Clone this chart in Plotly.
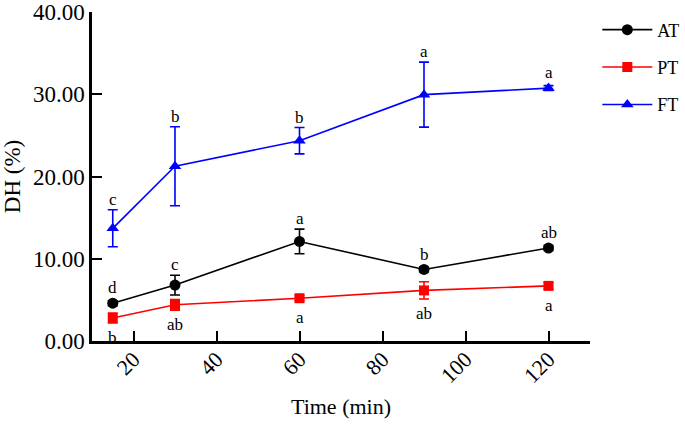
import plotly.graph_objects as go

time = [15, 30, 60, 90, 120]

at_mean = [4.6, 6.8, 12.1, 8.7, 11.3]
at_err = [0.3, 1.2, 1.5, 0.3, 0.3]
at_sig = ["d", "c", "a", "b", "ab"]

pt_mean = [2.8, 4.4, 5.2, 6.15, 6.7]
pt_err = [0.6, 0.65, 0.3, 1.05, 0.4]
pt_sig = ["b", "ab", "a", "ab", "a"]

ft_mean = [13.7, 21.25, 24.35, 29.95, 30.75]
ft_err = [2.25, 4.8, 1.6, 3.95, 0.3]
ft_sig = ["c", "b", "b", "a", "a"]

FONT = "Liberation Serif, Times New Roman, serif"

series = [
    ("AT", at_mean, at_err, at_sig, "black", "circle", "above"),
    ("PT", pt_mean, pt_err, pt_sig, "red", "square", "below"),
    ("FT", ft_mean, ft_err, ft_sig, "blue", "triangle-up", "above"),
]

fig = go.Figure()
annotations = []
for name, mean, err, sig, col, sym, where in series:
    fig.add_trace(go.Scatter(
        x=time, y=mean, name=name, mode="lines+markers",
        line=dict(color=col, width=1.6),
        marker=dict(symbol=sym, size=11 if sym != "square" else 10, color=col),
        error_y=dict(type="data", array=err, color=col, thickness=1.6, width=5),
        legendgroup=name,
    ))
    for t, m, e, s in zip(time, mean, err, sig):
        if where == "above":
            annotations.append(dict(x=t, y=m + max(e, 0.6), text=s, showarrow=False,
                                    yanchor="bottom", yshift=-1,
                                    font=dict(family=FONT, size=17, color="black")))
        else:
            annotations.append(dict(x=t, y=m - max(e, 0.6), text=s, showarrow=False,
                                    yanchor="top", yshift=-3,
                                    font=dict(family=FONT, size=17, color="black")))

fig.update_layout(
    width=685, height=424,
    margin=dict(l=92, r=95, t=12, b=83),
    plot_bgcolor="white", paper_bgcolor="white",
    font=dict(family=FONT, color="black"),
    annotations=annotations,
    legend=dict(xref="container", yref="container", x=0.872, y=0.973,
                xanchor="left", yanchor="top",
                font=dict(family=FONT, size=18), tracegroupgap=11,
                itemwidth=50, bgcolor="rgba(0,0,0,0)"),
)
fig.update_xaxes(
    range=[10, 130], tickvals=[20, 40, 60, 80, 100, 120], tickangle=-45,
    showline=True, linecolor="black", linewidth=2.5, ticks="inside", ticklen=10,
    tickwidth=2, tickcolor="black", showgrid=False, zeroline=False,
    automargin=False, tickfont=dict(family=FONT, size=22), ticklabelstandoff=-6,
    title=dict(text="Time (min)", font=dict(family=FONT, size=22), standoff=12),
)
fig.update_yaxes(
    range=[0, 40], tickvals=[0, 10, 20, 30, 40], tickformat=".2f",
    showline=True, linecolor="black", linewidth=2.5, ticks="inside", ticklen=10,
    tickwidth=2, tickcolor="black", showgrid=False, zeroline=False,
    automargin=False, tickfont=dict(family=FONT, size=23),
    title=dict(text="DH (%)", font=dict(family=FONT, size=23), standoff=6),
)

# page body has a default 8px margin; drop it so the figure fills the window
fig.write_html("out.html", config={"displayModeBar": False},
               post_script="document.body.style.margin='0';")
